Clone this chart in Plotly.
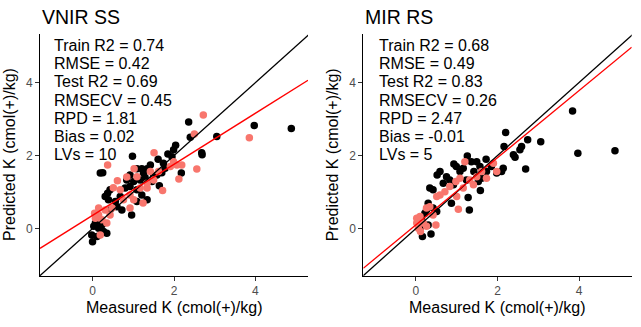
import plotly.graph_objects as go

# ---------------- data ----------------
panel_titles = ["VNIR SS", "MIR RS"]

stats_vnir = ["Train R2 = 0.74", "RMSE = 0.42", "Test R2 = 0.69", "RMSECV = 0.45",
              "RPD = 1.81", "Bias = 0.02", "LVs = 10"]
stats_mir = ["Train R2 = 0.68", "RMSE = 0.49", "Test R2 = 0.83", "RMSECV = 0.26",
             "RPD = 2.47", "Bias = -0.01", "LVs = 5"]

# VNIR SS: training (black) and test (salmon) points
vnir_train_x = [2.36, 3.97, 4.88, 3.05, 2.40, 0.98, 2.04, 1.99, 1.85, 1.61, 2.68, 2.69, 2.18, 0.19,
                0.25, 1.09, 1.21, 1.34, 0.92, 0.84, 1.01, 1.17, 1.29, 1.46, 1.58, 1.70, 1.78, 1.64,
                0.43, 0.37, 0.31, 0.39, 0.72, 0.96, 1.09, 1.34, 1.21, 1.09, 0.92, 0.80, 0.68, 0.56,
                0.11, 0.07, 0.03, 0.15, 0.23, 0.27, 0.35, -0.02, 0.00, 0.11, 0.43, 0.60, 1.95, 1.74,
                1.42, 1.50, 1.25]
vnir_train_y = [2.92, 2.82, 2.74, 2.52, 2.50, 1.98, 2.28, 2.16, 2.04, 1.90, 2.08, 2.02, 1.52, 1.52,
                1.53, 1.64, 1.64, 1.64, 1.47, 1.33, 1.29, 1.33, 1.40, 1.29, 1.47, 1.53, 1.65, 1.17,
                1.06, 0.97, 0.88, 0.79, 0.51, 0.37, 0.74, 0.79, 0.92, 1.06, 1.15, 1.11, 0.88, 0.74,
                0.33, 0.15, 0.06, 0.01, 0.10, -0.08, -0.13, -0.18, -0.36, -0.22, 0.51, 0.60, 1.97, 1.79,
                1.74, 1.42, 1.52]
vnir_test_x = [2.72, 2.50, 3.85, 1.51, 0.37, 2.56, 2.12, 2.19, 1.99, 1.02, 0.61, 0.51, 0.84, 1.09,
               1.42, 1.62, 1.50, 1.34, 1.72, 1.17, 0.92, 0.76, 1.01, 0.92, 1.24, 0.43, 0.31, 0.15,
               0.15, 0.07, 0.23, 0.35, 0.19, 0.48, 2.07, 1.91, 1.34, 0.68, 0.05]
vnir_test_y = [3.11, 2.59, 2.49, 2.08, 1.74, 1.63, 1.36, 1.74, 1.83, 1.64, 1.31, 1.12, 1.41, 1.42,
               1.56, 1.56, 1.33, 1.11, 1.04, 1.11, 0.92, 0.79, 0.79, 0.56, 0.70, 0.37, 0.51, 0.56,
               0.37, 0.28, 0.24, 0.15, -0.18, 0.56, 1.74, 1.70, 1.24, 1.06, 0.42]

# MIR RS
mir_train_x = [3.84, 3.97, 4.88, 3.06, 2.74, 2.69, 2.20, 2.16, 2.39, 2.43, 2.55, 2.59, 2.14, 2.10,
               1.26, 1.36, 1.49, 1.72, 1.57, 1.42, 1.16, 0.93, 0.99, 1.08, 0.75, 0.59, 0.52, 0.34,
               0.42, 1.61, 1.53, 1.58, 1.24, 1.28, 1.31, 0.87, 0.92, 0.30, 0.42, 0.51, 0.22, 0.14,
               0.30, 0.16, 0.37, 0.10, 1.85, 1.73, 1.98, 0.83, 0.67, 0.26]
mir_train_y = [3.22, 2.06, 2.13, 2.38, 2.43, 1.63, 2.63, 2.25, 2.02, 1.95, 2.16, 2.25, 1.65, 1.56,
               1.99, 1.83, 1.83, 1.90, 1.70, 1.56, 1.65, 1.77, 1.70, 1.56, 1.42, 1.56, 1.47, 1.11,
               1.06, 1.38, 1.29, 1.04, 1.33, 0.85, 0.51, 0.69, 1.20, 0.69, 0.56, 0.47, 0.42, 0.24,
               0.10, -0.22, -0.15, 0.01, 1.70, 1.56, 1.52, 1.33, 1.24, 0.51]
mir_test_x = [1.20, 1.90, 1.98, 1.73, 1.49, 1.32, 1.41, 1.08, 0.98, 0.83, 0.71, 0.59, 0.51, 1.00,
              1.04, 0.34, 0.26, 0.10, 0.02, 0.18, 0.26, 0.49, 0.06, 0.11, 0.02, 0.42, 1.61, 1.16]
mir_test_y = [1.83, 1.79, 1.56, 1.38, 1.42, 1.33, 1.20, 1.38, 1.29, 1.15, 1.01, 0.92, 0.88, 0.88,
              0.53, 0.60, 0.56, 0.33, 0.28, 0.15, 0.06, 0.10, 0.01, -0.08, 0.15, 0.37, 1.56, 1.11]

# fitted regression lines (intercept, slope)
vnir_fit = (0.36, 0.70)
mir_fit = (0.10, 0.92)

x_range = [-1.29, 5.29]
y_range = [-1.30, 5.33]
tick_vals = [0, 2, 4]

# ---------------- figure ----------------
W, H = 641, 327
BLACK = "#000000"
SALMON = "#F8766D"
FONT = "Liberation Sans, Arial, sans-serif"

fig = go.Figure()

panels = [
    dict(train=(vnir_train_x, vnir_train_y), test=(vnir_test_x, vnir_test_y), fit=vnir_fit,
         stats=stats_vnir, title=panel_titles[0], xa="x", ya="y",
         px0=40.0, px1=308.0, text_x=52.3),
    dict(train=(mir_train_x, mir_train_y), test=(mir_test_x, mir_test_y), fit=mir_fit,
         stats=stats_mir, title=panel_titles[1], xa="x2", ya="y2",
         px0=363.3, px1=631.7, text_x=376.7),
]

py_top, py_bot = 34.0, 276.0

annotations = []
for i, p in enumerate(panels):
    fig.add_trace(go.Scatter(x=p["train"][0], y=p["train"][1], mode="markers",
                             marker=dict(color=BLACK, size=7.5), xaxis=p["xa"], yaxis=p["ya"],
                             showlegend=False, hoverinfo="skip"))
    fig.add_trace(go.Scatter(x=p["test"][0], y=p["test"][1], mode="markers",
                             marker=dict(color=SALMON, size=7.5), xaxis=p["xa"], yaxis=p["ya"],
                             showlegend=False, hoverinfo="skip"))
    # 1:1 line
    fig.add_trace(go.Scatter(x=[x_range[0], y_range[1]], y=[x_range[0], y_range[1]], mode="lines",
                             line=dict(color=BLACK, width=1.3), xaxis=p["xa"], yaxis=p["ya"],
                             showlegend=False, hoverinfo="skip"))
    b0, b1 = p["fit"]
    fig.add_trace(go.Scatter(x=x_range, y=[b0 + b1 * x_range[0], b0 + b1 * x_range[1]], mode="lines",
                             line=dict(color="#FF0000", width=1.3), xaxis=p["xa"], yaxis=p["ya"],
                             showlegend=False, hoverinfo="skip"))

    cx = (p["px0"] + p["px1"]) / 2
    # panel title
    annotations.append(dict(text=p["title"], xref="paper", yref="paper", x=p["px0"] / W,
                            y=1 - 17 / H, xanchor="left", yanchor="middle", showarrow=False,
                            font=dict(size=19.5, color=BLACK, family=FONT)))
    # stats text
    for j, s in enumerate(p["stats"]):
        annotations.append(dict(text=s, xref="paper", yref="paper", x=p["text_x"] / W,
                                y=1 - (45.5 + 18.2 * j) / H, xanchor="left", yanchor="middle",
                                showarrow=False, font=dict(size=16, color=BLACK, family=FONT)))
    # axis titles
    annotations.append(dict(text="Measured K (cmol(+)/kg)", xref="paper", yref="paper", x=cx / W,
                            y=1 - 307 / H, xanchor="center", yanchor="middle", showarrow=False,
                            font=dict(size=16, color=BLACK, family=FONT)))
    annotations.append(dict(text="Predicted K (cmol(+)/kg)", xref="paper", yref="paper",
                            x=(p["px0"] - 31) / W, y=1 - 155 / H, xanchor="center", yanchor="middle",
                            textangle=-90, showarrow=False,
                            font=dict(size=16, color=BLACK, family=FONT)))

axis_common = dict(showgrid=False, zeroline=False, showline=True, linecolor=BLACK, linewidth=1,
                   ticks="outside", ticklen=4, tickcolor="#333333", tickwidth=1,
                   tickvals=tick_vals, tickfont=dict(size=12, color="#4d4d4d", family=FONT))

ydom = [1 - py_bot / H, 1 - py_top / H]
fig.update_layout(
    width=W, height=H, margin=dict(l=0, r=0, t=0, b=0),
    paper_bgcolor="white", plot_bgcolor="white",
    xaxis=dict(domain=[panels[0]["px0"] / W, panels[0]["px1"] / W], range=x_range, anchor="y", **axis_common),
    yaxis=dict(domain=ydom, range=y_range, anchor="x", **axis_common),
    xaxis2=dict(domain=[panels[1]["px0"] / W, panels[1]["px1"] / W], range=x_range, anchor="y2", **axis_common),
    yaxis2=dict(domain=ydom, range=y_range, anchor="x2", **axis_common),
    annotations=annotations,
)

fig.write_html("out.html")
